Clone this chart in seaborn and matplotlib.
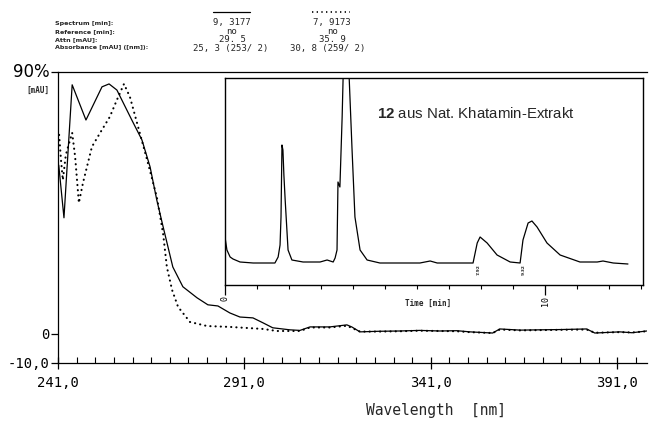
import matplotlib
matplotlib.use("Agg")
import matplotlib.pyplot as plt
from matplotlib.lines import Line2D
from matplotlib.ticker import FixedLocator
import seaborn as sns
import pandas as pd

# ---- data ----
wl_solid = [241.2, 242.6, 244.8, 248.5, 252.8, 254.7, 256.8, 260.8, 263.5, 265.7,
            267.5, 269.2, 271.8, 274.5, 278.3, 281.2, 283.9, 287.1, 289.8, 293.3,
            296.0, 298.6, 303.2, 305.9, 308.6, 313.9, 318.5, 319.8, 322.0, 327.0,
            332.7, 338.0, 343.4, 348.0, 351.5, 357.6, 359.5, 365.0, 370.2, 376.0,
            382.8, 385.0, 391.7, 395.0, 398.9]
abs_solid = [58.0, 39.9, 85.6, 73.5, 84.9, 85.9, 83.8, 73.5, 66.7, 57.4,
             46.0, 36.8, 23.0, 16.2, 12.4, 10.0, 9.6, 7.2, 5.8, 5.5,
             3.8, 2.1, 1.4, 1.2, 2.4, 2.4, 3.1, 2.4, 0.7, 0.9,
             1.0, 1.2, 1.0, 1.1, 0.7, 0.3, 1.7, 1.3, 1.4, 1.5,
             1.7, 0.3, 0.7, 0.4, 1.0]

wl_dot = [241.3, 241.8, 242.3, 243.1, 243.7, 244.8, 245.6, 246.6, 247.7, 250.1,
          252.3, 254.9, 256.8, 258.7, 260.3, 262.2, 264.9, 267.5, 269.2, 270.2,
          271.6, 273.2, 276.4, 281.0, 287.1, 296.0, 299.7, 305.9, 308.6, 313.9,
          318.5, 322.0, 327.0, 332.7, 338.0, 343.4, 348.0, 351.5, 357.6, 359.5,
          365.0, 370.2, 376.0, 382.8, 385.0, 391.7, 395.0, 398.9]
abs_dot = [68.4, 59.8, 52.9, 61.5, 64.3, 69.1, 60.8, 45.0, 51.9, 64.3,
           69.1, 74.6, 80.4, 85.9, 81.4, 72.5, 59.8, 47.1, 34.4, 23.0,
           15.1, 9.3, 4.1, 2.7, 2.4, 1.7, 1.0, 1.0, 2.2, 2.2,
           2.8, 0.8, 0.8, 0.9, 1.1, 1.0, 0.9, 0.6, 0.3, 1.5,
           1.2, 1.3, 1.4, 1.5, 0.4, 0.6, 0.5, 0.9]

time_min = [0.0, 0.06, 0.16, 0.25, 0.47, 0.88, 1.56, 1.66, 1.72, 1.75, 1.78, 1.81,
            1.84, 1.88, 1.97, 2.09, 2.44, 2.97, 3.19, 3.38, 3.44, 3.50, 3.53, 3.59,
            3.66, 3.69, 3.78, 3.88, 3.97, 4.06, 4.22, 4.44, 4.84, 6.09, 6.41, 6.63,
            7.75, 7.88, 7.97, 8.19, 8.50, 8.91, 9.22, 9.31, 9.47, 9.59, 9.75, 10.06,
            10.47, 11.09, 11.63, 11.81, 12.13, 12.59]
signal = [26, 13, 6, 4, 1, 0, 0, 6, 18, 46, 118, 113,
          88, 63, 13, 3, 1, 1, 3, 1, 5, 13, 81, 76,
          146, 185, 230, 185, 113, 46, 13, 3, 0, 0, 2, 0,
          0, 20, 26, 20, 8, 1, 0, 23, 40, 42, 36, 20,
          8, 1, 1, 2, 0, -1]

x_major = [241, 291, 341, 391]
x_major_labels = ["241,0", "291,0", "341,0", "391,0"]
y_ticks = [-10, 0, 90]
y_tick_labels = ["-10,0", "0", "90%"]

header_rows = ["Spectrum [min]:", "Reference [min]:", "Attn [mAU]:", "Absorbance [mAU] ([nm]):"]
col1 = ["9, 3177", "no", "29. 5", "25, 3 (253/ 2)"]
col2 = ["7, 9173", "no", "35. 9", "30, 8 (259/ 2)"]
peak_labels = ["7.92", "9.32"]
peak_times = [7.92, 9.32]

# ---- style ----
sns.set_style("ticks")
plt.rcParams['font.family'] = ['DejaVu Sans']
plt.rcParams['mathtext.fontset'] = 'custom'
plt.rcParams['mathtext.rm'] = 'Liberation Sans'
plt.rcParams['mathtext.bf'] = 'Liberation Sans:bold'

W, H = 650, 424
fig = plt.figure(figsize=(6.5, 4.24), dpi=100)
fig.patch.set_facecolor("white")

def fx(px):
    return px / W

def fy(py):
    return 1 - py / H

ax = fig.add_axes([fx(58), fy(363), fx(647) - fx(58), fy(72) - fy(363)])
ax.set_facecolor("white")

df_s = pd.DataFrame({"wl": wl_solid, "a": abs_solid})
df_d = pd.DataFrame({"wl": wl_dot, "a": abs_dot})
sns.lineplot(data=df_s, x="wl", y="a", ax=ax, color="black", lw=0.9, sort=False)
sns.lineplot(data=df_d, x="wl", y="a", ax=ax, color="black", lw=1.5,
             linestyle=(0, (0.1, 2.4)), dash_capstyle="round", sort=False)

ax.set_xlim(241, 399)
ax.set_ylim(-10, 90)
ax.set_xlabel("")
ax.set_ylabel("")
for s in ["left", "bottom", "top"]:
    ax.spines[s].set_color("black")
    ax.spines[s].set_linewidth(0.9)
ax.spines["right"].set_visible(False)

ax.xaxis.set_major_locator(FixedLocator(x_major))
ax.set_xticklabels(x_major_labels, family="DejaVu Sans Mono", fontsize=10)
ax.xaxis.set_minor_locator(FixedLocator([v for v in range(246, 399, 5)]))
ax.tick_params(axis="x", which="major", direction="inout", length=9, width=0.9,
               pad=5, colors="black")
ax.tick_params(axis="x", which="minor", direction="in", length=4, width=0.8,
               colors="black")
ax.set_yticks(y_ticks)
ax.set_yticklabels(y_tick_labels, family="DejaVu Sans Mono", fontsize=10)
ax.tick_params(axis="y", which="major", direction="out", length=5, width=0.9,
               pad=1, colors="black")
lab90 = ax.get_yticklabels()[2]
lab90.set_family("DejaVu Sans")
lab90.set_fontsize(12)
lab90.set_va("center")

fig.text(fx(38), fy(90), "[mAU]", family="DejaVu Sans Mono", fontsize=5.5,
         weight="bold", ha="center", va="center")
fig.text(fx(436), fy(410), "Wavelength  [nm]", family="DejaVu Sans Mono",
         fontsize=10.5, ha="center", va="center")

# header table
row_y = [23, 32, 40, 48]
for i, t in enumerate(header_rows):
    fig.text(fx(55), fy(row_y[i]), t, fontsize=4.6, weight="bold", ha="left", va="center")
for i in range(3):
    fig.text(fx(232), fy(row_y[i]), col1[i], family="DejaVu Sans Mono", fontsize=6.5,
             ha="center", va="center")
    fig.text(fx(332), fy(row_y[i]), col2[i], family="DejaVu Sans Mono", fontsize=6.5,
             ha="center", va="center")
fig.text(fx(193), fy(row_y[3]), col1[3], family="DejaVu Sans Mono", fontsize=6.5,
         ha="left", va="center")
fig.text(fx(290), fy(row_y[3]), col2[3], family="DejaVu Sans Mono", fontsize=6.5,
         ha="left", va="center")
fig.add_artist(Line2D([fx(213), fx(250)], [fy(12), fy(12)], color="black", lw=0.9))
fig.add_artist(Line2D([fx(312), fx(350)], [fy(12), fy(12)], color="black", lw=1.2,
                      linestyle=(0, (0.8, 2.0))))

# inset chromatogram
axin = fig.add_axes([fx(225), fy(285), fx(643) - fx(225), fy(78) - fy(285)])
axin.set_facecolor("white")
df_c = pd.DataFrame({"t": time_min, "s": signal})
sns.lineplot(data=df_c, x="t", y="s", ax=axin, color="black", lw=0.9, sort=False)
axin.set_xlim(0, 13.06)
axin.set_ylim(-22, 185)
axin.set_xlabel("")
axin.set_ylabel("")
for s in axin.spines.values():
    s.set_color("black")
    s.set_linewidth(1.0)
axin.set_yticks([])
axin.xaxis.set_major_locator(FixedLocator([0, 10]))
axin.set_xticklabels(["0", "10"], rotation=90, family="DejaVu Sans Mono", fontsize=6)
axin.xaxis.set_minor_locator(FixedLocator(list(range(1, 14))))
axin.tick_params(axis="x", which="major", direction="out", length=7, width=0.9,
                 pad=1, colors="black")
axin.tick_params(axis="x", which="minor", direction="out", length=3, width=0.8,
                 colors="black")
axin.text(0.486, -0.087, "Time [min]", transform=axin.transAxes, fontsize=5.5,
          weight="bold", family="DejaVu Sans Mono", ha="center", va="center")
axin.text(0.364, 0.83, r"$\mathbf{12}$ aus Nat. Khatamin-Extrakt",
          transform=axin.transAxes, family="Liberation Sans", fontsize=10.8,
          ha="left", va="center")
for lbl, t in zip(peak_labels, peak_times):
    axin.text(t, -1, lbl, rotation=90, fontsize=3.2, weight="bold",
              ha="center", va="top")

fig.savefig("out.png", dpi=100, facecolor="white")
